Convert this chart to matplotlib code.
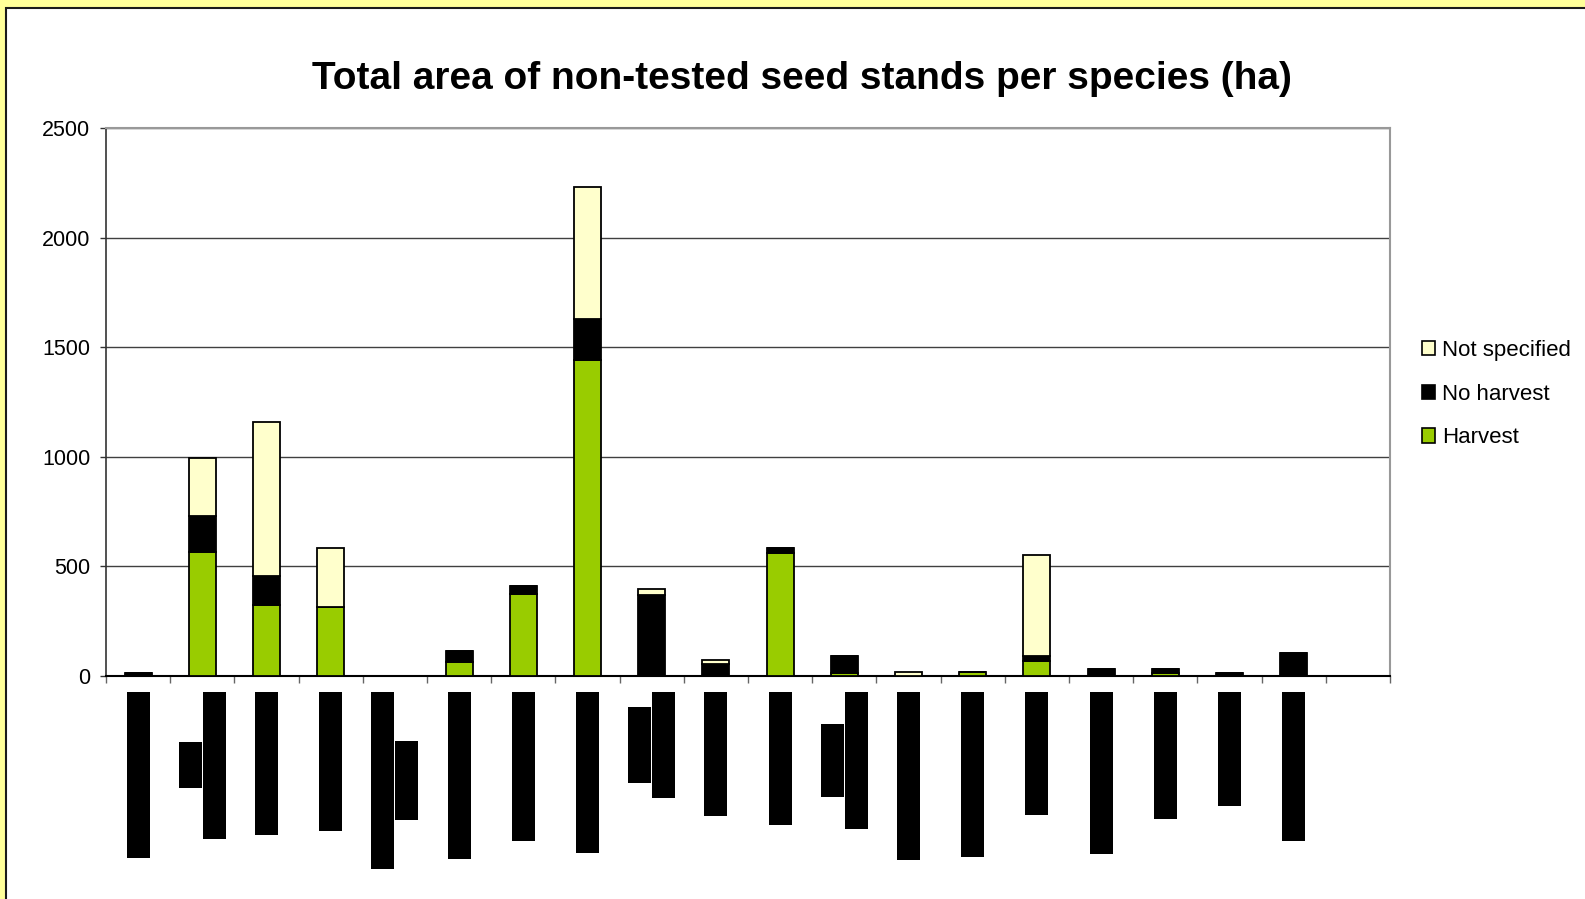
import numpy as np
import matplotlib
matplotlib.use("Agg")
import matplotlib.pyplot as plt
import matplotlib.transforms as mtransforms
from matplotlib.patches import Rectangle, Patch

# ---------------- data ----------------
species = [
    "Pinus sylvestris L.",
    "Acer\npseudoplatanus",
    "Fagus sylvatica",
    "Betula pendula",
    "Quercus petraea et\nQ. robur",
    "Fraxinus excelsior",
    "Prunus avium L.",
    "Picea abies Karst",
    "Populus\ncanadensis",
    "Larix decidua",
    "Quercus robur",
    "Juglans\nregia x J. nigra",
    "Pinus nigra Arnold",
    "Pinus pinaster Ait.",
    "Ulmus glabra",
    "Sorbus aucuparia",
    "Pinus cembra",
    "Tilia cordata",
    "Picea sitchensis",
    "",
]
harvest       = [0, 567, 323, 317, 0, 65, 374, 1440, 0, 0, 559, 13, 0, 20, 67, 0, 14, 0, 0, 0]
no_harvest    = [12, 161, 131, 0, 0, 49, 36, 188, 370, 53, 25, 80, 2, 0, 25, 34, 20, 12, 105, 0]
not_specified = [0, 265, 703, 267, 0, 0, 0, 605, 29, 20, 0, 0, 18, 0, 461, 0, 0, 0, 0, 0]
series_names = ["Harvest", "No harvest", "Not specified"]
series_colors = ["#99CC00", "#000000", "#FFFFCC"]
yticks = [0, 500, 1000, 1500, 2000, 2500]
title = "Total area of non-tested seed stands per species (ha)"

W, H = 1585, 899
fig = plt.figure(figsize=(W / 100, H / 100), dpi=100)
fig.patch.set_facecolor("#FFFF99")
fig.add_artist(Rectangle((6 / W, -0.1), 1.2, (H - 8) / H + 0.1, transform=fig.transFigure,
                         facecolor="white", edgecolor="#1a1a1a", lw=1.5, zorder=0))

ax = fig.add_axes([106 / W, 1 - 676 / H, (1390 - 106) / W, (676 - 128) / H])
ax.set_facecolor("white")
x = np.arange(len(species))
h = np.array(harvest, float)
nh = np.array(no_harvest, float)
ns = np.array(not_specified, float)
bw = 0.42
ax.bar(x, h, width=bw, color=series_colors[0], edgecolor="black", lw=1.3, zorder=3)
ax.bar(x, nh, bottom=h, width=bw, color=series_colors[1], edgecolor="black", lw=1.3, zorder=3)
ax.bar(x, ns, bottom=h + nh, width=bw, color=series_colors[2], edgecolor="black", lw=1.3, zorder=3)

ax.set_xlim(-0.5, len(species) - 0.5)
ax.set_ylim(0, 2500)
ax.set_yticks(yticks)
ax.set_yticklabels([str(v) for v in yticks], fontsize=15.5, family="Liberation Sans")
ax.set_xticks(np.arange(len(species) + 1) - 0.5)
ax.set_xticklabels([])
ax.tick_params(axis="x", direction="out", length=5, width=1, color="#666666")
ax.tick_params(axis="y", direction="out", length=4.3, width=1, color="#333333", pad=7)
ax.set_axisbelow(True)
ax.yaxis.grid(True, color="#404040", lw=1)
for s in ["top", "right"]:
    ax.spines[s].set_color("#999999")
    ax.spines[s].set_linewidth(1.5)
ax.spines["left"].set_color("#333333")
ax.spines["left"].set_linewidth(1.2)
ax.spines["bottom"].set_color("black")
ax.spines["bottom"].set_linewidth(1.5)

fig.text(802 / W, 1 - 89 / H, title, ha="center", va="baseline", fontsize=28,
         fontweight="bold", family="Liberation Sans")

# category labels (rotated text on black highlight)
blend = mtransforms.blended_transform_factory(ax.transData, ax.transAxes)
renderer = fig.canvas.get_renderer()
for i, lab in enumerate(species):
    if not lab:
        continue
    lines = lab.split("\n")
    n = len(lines)
    items = []
    for j, line in enumerate(lines):
        dx = (j - (n - 1) / 2) * 24
        tr = blend + mtransforms.ScaledTranslation(dx / 100, -18 / 100, fig.dpi_scale_trans)
        t = ax.text(i, 0, line, transform=tr, rotation=90, ha="center", va="top",
                    fontsize=14.5, family="Liberation Sans", color="black",
                    bbox=dict(facecolor="black", edgecolor="none", pad=1.5))
        items.append((t, dx))
    lens = [t.get_window_extent(renderer).height for t, _ in items]
    lmax = max(lens)
    for (t, dx), L in zip(items, lens):
        if L < lmax:
            off = 18 + (lmax - L) / 2
            t.set_transform(blend + mtransforms.ScaledTranslation(dx / 100, -off / 100, fig.dpi_scale_trans))

handles = [Patch(facecolor=series_colors[k], edgecolor="black", lw=1.2) for k in (2, 1, 0)]
fig.legend(handles, [series_names[k] for k in (2, 1, 0)], loc="upper left",
           bbox_to_anchor=(1422 / W, 1 - 340 / H), frameon=False,
           prop={"family": "Liberation Sans", "size": 16},
           handlelength=0.6, handleheight=0.6, handletextpad=0.32, labelspacing=1.02,
           borderaxespad=0, borderpad=0)

fig.savefig("out.png", dpi=100, facecolor=fig.get_facecolor())
